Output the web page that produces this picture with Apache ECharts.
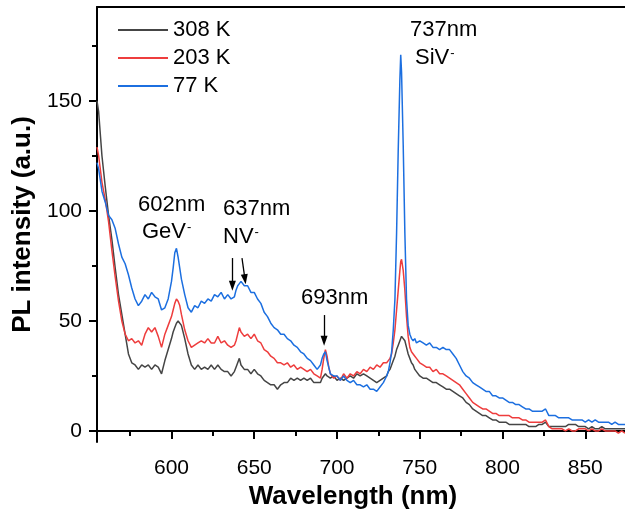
<!DOCTYPE html>
<html>
<head>
<meta charset="utf-8">
<script src="https://cdn.jsdelivr.net/npm/echarts@6/dist/echarts.min.js"></script>
<style>
  html, body { margin: 0; padding: 0; background: #fff; }
  #chart { width: 625px; height: 515px; }
</style>
</head>
<body>
<div id="chart"></div>
<script>
// Wavelength grid (nm) shared by the three spectra; finer steps around the sharp lines
const wavelength = [
  555, 556, 558, 560, 562, 564, 566, 568, 570, 572, 574, 576, 578, 580, 582, 584, 586, 588, 590, 592, 594, 596, 598, 600,
  601, 602, 603, 604, 605, 606, 608, 610, 612, 614, 616, 618, 620,
  622, 624, 626, 628, 630, 632, 634, 636, 638, 639, 640, 641, 642, 644, 646, 648, 650, 652, 654, 656, 658, 660,
  662, 664, 666, 668, 670, 672, 674, 676, 678, 680,
  682, 684, 686, 688, 690, 691, 692, 693, 694, 695, 696,
  698, 700, 702, 704, 706, 708, 710, 712, 714, 716, 718, 720, 722, 724, 726, 728, 730,
  731, 732, 733, 734, 735, 736, 737, 738, 738.5, 739, 740, 741, 742, 743, 744, 745, 746, 747, 748,
  750, 752, 754, 756, 758, 760, 762, 764, 766, 768, 770, 772, 774, 776, 778, 780, 782, 784, 786, 788, 790, 792, 794, 796, 798, 800,
  802, 804, 806, 808, 810, 812, 814, 816, 818, 820, 822, 824, 826, 828, 830, 832, 834, 836, 838, 840,
  842, 844, 846, 848, 850, 852, 854, 856, 858, 860, 862, 864, 866, 868, 870, 872, 874
];

// PL intensity (a.u.) at 308 K
const pl308K = [
  150, 145, 125, 111, 98, 87, 74, 62, 53, 44, 35, 31, 30, 28, 30, 29, 30, 28, 30, 29, 26, 32, 37, 42,
  45, 47, 49, 50, 50, 48, 42, 35, 30, 28, 30, 28, 29,
  28, 30, 28, 30, 28, 27, 27, 25, 27, 29, 31, 33, 30, 28, 28, 26, 28, 26, 25, 23, 22, 21,
  21, 19, 21, 22, 22, 24, 23, 24, 23, 24,
  23, 24, 22, 22, 22, 24, 25, 26, 25, 25, 24,
  25, 23, 24, 23, 24, 25, 24, 26, 25, 26, 25, 24, 23, 22, 23, 24, 25,
  27, 28, 30, 32, 34, 37, 39, 41, 42, 43, 43, 41, 38, 35, 33, 31, 30, 28, 27,
  25, 24, 24, 23, 22, 22, 21, 20, 19, 19, 18, 17, 16, 15, 13, 12, 10, 9, 8, 7, 7, 6, 5, 5, 4, 4,
  4, 3, 3, 3, 3, 3, 3, 2, 2, 2, 3, 3, 4, 2, 2, 2, 2, 2, 2, 3,
  3, 3, 2, 2, 2, 1, 2, 1, 1, 2, 1, 1, 1, 1, 1, 1, 1
];

// PL intensity (a.u.) at 203 K
const pl203K = [
  129, 125, 113, 105, 95, 82, 70, 59, 50, 44, 41, 42, 40, 41, 39, 44, 47, 45, 47, 43, 38, 44, 48, 52,
  55, 58, 60, 59, 57, 53, 46, 41, 38, 39, 40, 41, 40,
  42, 40, 40, 43, 40, 41, 39, 38, 39, 41, 44, 47, 45, 43, 44, 42, 44, 41, 40, 37, 36, 34,
  33, 31, 31, 30, 31, 29, 30, 28, 29, 28,
  27, 28, 26, 25, 24, 28, 33, 37, 34, 29, 26,
  24, 25, 23, 26, 24, 26, 25, 27, 26, 28, 27, 29, 28, 30, 29, 31, 31,
  32, 33, 35, 40, 46, 55, 64, 73, 77, 78, 73, 64, 52, 43, 38, 36, 35, 34, 33,
  31, 30, 29, 29, 27, 28, 26, 26, 25, 24, 23, 22, 21, 19, 17, 15, 13, 12, 11, 10, 10, 9, 8, 8, 7, 7,
  7, 7, 6, 6, 6, 5, 5, 4, 4, 4, 4, 4, 5, 2, 1, 1, 1, 1, 0, 1,
  0, 0, 1, 1, 1, 0, 1, 0, 0, 1, 0, 0, 0, 0, -1, 0, -1
];

// PL intensity (a.u.) at 77 K
const pl77K = [
  122, 119, 109, 104, 98, 96, 92, 85, 79, 76, 71, 65, 60, 57, 59, 62, 60, 63, 61, 60, 55, 56, 60, 68,
  74, 81, 83, 79, 74, 69, 62, 56, 54, 57, 56, 59, 58,
  60, 59, 62, 61, 63, 60, 62, 60, 61, 64, 66, 67, 68, 66, 66, 63, 63, 60, 58, 54, 52, 49,
  47, 46, 44, 44, 42, 41, 39, 38, 36, 35,
  33, 32, 30, 28, 30, 33, 35, 36, 32, 29, 26,
  25, 25, 23, 25, 23, 22, 23, 21, 21, 20, 21, 19, 19, 18, 20, 22, 25,
  27, 31, 36, 46, 60, 90, 128, 160, 171, 163, 130, 90, 60, 48, 44, 42, 41, 42, 40,
  41, 40, 39, 40, 38, 38, 37, 38, 37, 37, 35, 33, 30, 27, 25, 24, 22, 21, 20, 19, 18, 18, 16, 16, 15, 15,
  14, 13, 13, 12, 12, 11, 10, 10, 9, 9, 9, 9, 10, 7, 7, 7, 6, 6, 6, 6,
  5, 5, 5, 5, 4, 5, 4, 5, 4, 4, 4, 4, 3, 4, 3, 3, 3
];

const seriesNames = ['308 K', '203 K', '77 K'];
const seriesColors = ['#454545', '#ee3d3d', '#1c6fe0'];

const xTicks = [600, 650, 700, 750, 800, 850];
const xMinorTicks = [575, 625, 675, 725, 775, 825];
const yTicks = [0, 50, 100, 150];
const yMinorTicks = [25, 75, 125, 175];

// Arrows pointing at the emission lines, start and end in data units
const arrowStarts = [[636.8, 78.6], [642.6, 78.6], [692.2, 52.7]];
const arrowEnds = [[636.8, 66.0], [644.4, 69.0], [692.2, 41.0]];

// Peak annotations: wavelength line and defect centre (rich text, superscript minus)
const peakLabels = [
  ['602nm', 138, 205], ['GeV{s|-}', 142, 232],
  ['637nm', 223, 209], ['NV{s|-}', 223, 237],
  ['693nm', 301, 298],
  ['737nm', 410, 30], ['SiV{s|-}', 415, 58]
];

const FONT = '"Liberation Sans", Arial, sans-serif';

const chart = echarts.init(document.getElementById('chart'), null, { renderer: 'canvas' });

function pairs(ys) {
  return wavelength.map((x, i) => [x, ys[i]]);
}

const axisColor = '#000';
const xRange = { min: 555, max: 874 };
const yRange = { min: -5, max: 192.7 };

const option = {
  animation: false,
  backgroundColor: '#fff',
  grid: { left: 97, right: 0, top: 7, bottom: 73 },
  legend: {
    orient: 'vertical',
    left: 118,
    top: 19,
    padding: 0,
    itemWidth: 50,
    itemHeight: 2,
    itemGap: 6,
    icon: 'rect',
    textStyle: { fontSize: 22, color: '#000', fontFamily: FONT, lineHeight: 22 },
    data: seriesNames
  },
  xAxis: [
    {
      type: 'value', ...xRange, position: 'bottom',
      axisLine: { lineStyle: { color: axisColor, width: 2 } },
      axisTick: { customValues: xTicks, length: 8, lineStyle: { color: axisColor, width: 2 } },
      axisLabel: { customValues: xTicks, margin: 16, fontSize: 21, color: '#000', fontFamily: FONT },
      splitLine: { show: false },
      name: 'Wavelength (nm)', nameLocation: 'middle', nameGap: 39,
      nameTextStyle: { fontSize: 26, fontWeight: 'bold', color: '#000', fontFamily: FONT, padding: [0, 16, 0, 0] }
    },
    {
      type: 'value', ...xRange, position: 'bottom',
      axisLine: { show: false },
      axisTick: { customValues: xMinorTicks, length: 5, lineStyle: { color: axisColor, width: 2 } },
      axisLabel: { show: false },
      splitLine: { show: false }
    },
    {
      type: 'value', ...xRange, position: 'top',
      axisLine: { show: true, lineStyle: { color: axisColor, width: 2 } },
      axisTick: { show: false },
      axisLabel: { show: false },
      splitLine: { show: false }
    }
  ],
  yAxis: [
    {
      type: 'value', ...yRange, position: 'left',
      axisLine: { show: true, lineStyle: { color: axisColor, width: 2 } },
      axisTick: { show: true, customValues: yTicks, length: 8, lineStyle: { color: axisColor, width: 2 } },
      axisLabel: { customValues: yTicks, margin: 15, fontSize: 21, color: '#000', fontFamily: FONT },
      splitLine: { show: false },
      name: 'PL intensity (a.u.)', nameLocation: 'middle', nameGap: 55,
      nameTextStyle: { fontSize: 26, fontWeight: 'bold', color: '#000', fontFamily: FONT }
    },
    {
      type: 'value', ...yRange, position: 'left',
      axisLine: { show: false },
      axisTick: { show: true, customValues: yMinorTicks, length: 5, lineStyle: { color: axisColor, width: 2 } },
      axisLabel: { show: false },
      splitLine: { show: false }
    }
  ],
  series: seriesNames.map((name, i) => ({
    name,
    type: 'line',
    data: pairs([pl308K, pl203K, pl77K][i]),
    showSymbol: false,
    symbol: 'none',
    lineStyle: { color: seriesColors[i], width: 1.5 },
    itemStyle: { color: seriesColors[i] },
    z: 2 + i,
    markLine: i === 0 ? {
      silent: true,
      symbol: ['none', 'triangle'],
      symbolSize: [7, 10],
      lineStyle: { color: '#000', width: 1.3, type: 'solid' },
      label: { show: false },
      data: arrowStarts.map((s, k) => [{ coord: s }, { coord: arrowEnds[k] }])
    } : undefined
  })),
  graphic: peakLabels.map(([text, x, y]) => ({
    type: 'text', x, y, silent: true, z: 10,
    style: {
      text, fill: '#000', fontSize: 22, fontFamily: FONT, align: 'left', verticalAlign: 'middle',
      rich: { s: { fontSize: 13, fontFamily: FONT, fill: '#000', verticalAlign: 'top', padding: [0, 0, 0, 1] } }
    }
  }))
};

chart.setOption(option);
</script>
</body>
</html>
